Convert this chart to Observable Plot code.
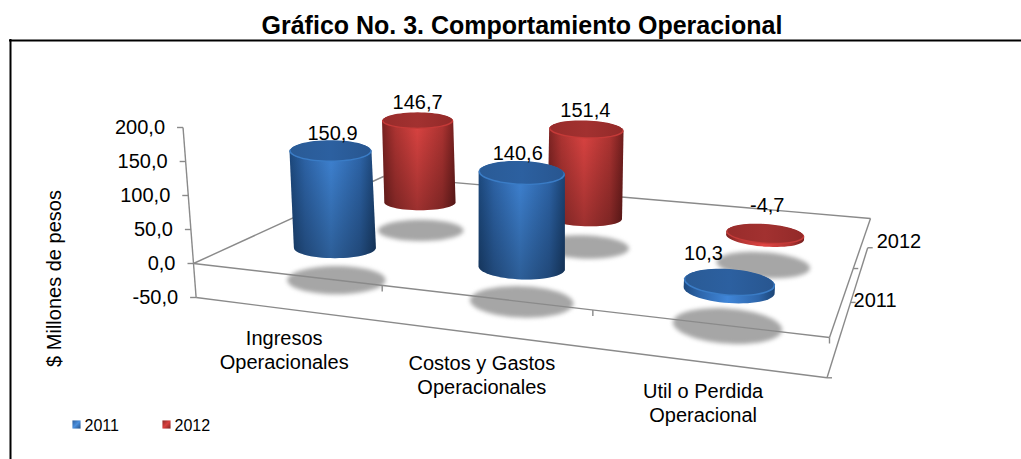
<!DOCTYPE html>
<html lang="es">
<head>
<meta charset="utf-8">
<script src="https://cdn.jsdelivr.net/npm/d3@7"></script>
<script src="https://cdn.jsdelivr.net/npm/@observablehq/plot@0.6"></script>
<style>
  html, body { margin: 0; padding: 0; background: #fff; }
  #title { box-sizing: border-box; width: 1021px; height: 39px; padding: 11px 0 0 23px; text-align: center;
    font: bold 25px/28px "Liberation Sans", Arial, sans-serif; color: #000; white-space: nowrap; }
</style>
</head>
<body>
<div id="title">Gráfico No. 3. Comportamiento Operacional</div>
<div id="chart"></div>
<script>
const categories = ["Ingresos\nOperacionales", "Costos y Gastos\nOperacionales", "Util o Perdida\nOperacional"];
const seriesNames = ["2011", "2012"];
const values2011 = [150.9, 140.6, 10.3];
const values2012 = [146.7, 151.4, -4.7];
const valueTicks = [-50, 0, 50, 100, 150, 200];
const yTitle = "$ Millones de pesos";
const axisMin = -50;

// Perspective camera of the 3D chart: floor corners (value 0) on the page.
const floor = {a: [193, 263], b: [829, 337], c: [870, 218], d: [383, 176]};
const unitHeight = 0.68, vanishX = 520, lean = 0.00016, barHeight = 0.985;
const radiusX = 43, radiusV = 0.1, tiltRate = 0.1;
const shadowGrowX = 1.2, shadowGrowY = 1.35;

const [x0, y0] = floor.a, [x1, y1] = floor.b, [x2, y2] = floor.c, [x3, y3] = floor.d;
const dx1 = x1 - x2, dx2 = x3 - x2, sx = x0 - x1 + x2 - x3;
const dy1 = y1 - y2, dy2 = y3 - y2, sy = y0 - y1 + y2 - y3;
const det = dx1 * dy2 - dx2 * dy1;
const g = (sx * dy2 - dx2 * sy) / det, h = (dx1 * sy - sx * dy1) / det;
const depthW = (u, v) => g * u + h * v + 1;
function project(u, v, val) {
  const w = depthW(u, v);
  const bx = ((x1 - x0 + g * x1) * u + (x3 - x0 + h * x3) * v + x0) / w;
  const by = ((y1 - y0 + g * y1) * u + (y3 - y0 + h * y3) * v + y0) / w;
  return {x: bx + (bx - vanishX) * lean * val, y: by - val * unitHeight / w};
}
// Outline of a cylinder's circular end, seen through the camera.
function ring(u, v, val, growX = 1, growY = 1) {
  const c = project(u, v, val);
  const rx = radiusX / depthW(u, v) * growX;
  const ry = Math.abs(project(u, v + 0.01, 0).y - project(u, v - 0.01, 0).y) / 0.02 * radiusV * growY;
  const tilt = (u - 0.17) * tiltRate;
  return d3.range(60).map(k => {
    const t = k / 60 * 2 * Math.PI;
    return {x: c.x + rx * Math.cos(t), y: c.y + ry * Math.sin(t) + tilt * rx * Math.cos(t)};
  });
}

const series = [
  {name: seriesNames[0], values: values2011, v: 0.235, key: "blue"},
  {name: seriesNames[1], values: values2012, v: 0.735, key: "red"}
];
const fmt = d => d.toFixed(1).replace(".", ",");
const catU = i => (i + 0.5) / categories.length;

function tag(points, id) { return points.map(p => ({...p, id})); }
function pieces(s) {
  const body = [], tall = [], topRim = [], topFace = [];
  s.values.forEach((val, i) => {
    const u = catU(i), hi = Math.max(val, 0) * barHeight, lo = Math.min(val, 0) * barHeight;
    const hull = d3.polygonHull([...ring(u, s.v, hi), ...ring(u, s.v, lo)].map(p => [p.x, p.y]));
    const outline = hull.map(([x, y]) => ({x, y, id: i}));
    body.push(...outline);
    if (Math.abs(val) > 50) tall.push(...outline);
    topRim.push(...tag(ring(u, s.v, hi), i));
    const inner = ring(u, s.v, hi, 0.97, 0.97).map(p => ({x: p.x, y: p.y - 1}));
    topFace.push(...tag(inner, i));
  });
  return {body, tall, topRim, topFace};
}
const shadows = series.flatMap(s => s.values.flatMap((_, i) =>
  tag(ring(catU(i), s.v, axisMin, shadowGrowX, shadowGrowY), s.key + i)));

// Axis frame
const seg = (p, q) => ({x1: p.x, y1: p.y, x2: q.x, y2: q.y});
const frameLines = [
  seg(project(0, 0, 0), project(1, 0, 0)),
  seg(project(1, 0, 0), project(1, 1, 0)),
  seg(project(1, 1, 0), project(0, 1, 0)),
  seg(project(0, 1, 0), project(0, 0, 0)),
  seg(project(0, 0, axisMin), project(1, 0, axisMin)),
  seg(project(1, 0, axisMin), project(1, 1, axisMin)),
  seg(project(0, 0, d3.max(valueTicks)), project(0, 0, axisMin))
];
const off = (p, dx, dy) => ({x: p.x + dx, y: p.y + dy});
const tickLines = [
  ...valueTicks.map(t => { const p = project(0, 0, t); return seg(off(p, -6, 0), p); }),
  ...d3.range(1, categories.length + 1).map(i => { const p = project(i / categories.length, 0, 0); return seg(p, off(p, 0, 6)); }),
  ...[0, 0.5, 1].map(v => { const p = project(1, v, axisMin); return seg(p, off(p, 5, 0)); }),
  (() => { const p = project(1, 0.5, 0); return seg(p, off(p, 5, 0)); })()
];
const valueLabels = valueTicks.map(t => ({...off(project(0, 0, t), -18, 0), text: fmt(t)}));
const catLabels = categories.map((c, i) => ({...off(project(catU(i), 0, axisMin), -3, 40), text: c}));
const rowLabels = [
  {...off(project(1, 0.5, axisMin), 3, -2), text: seriesNames[0]},
  {...off(project(1, 1, axisMin), 9, -6), text: seriesNames[1]}
];
const labelShift = {blue: [[2, -18], [-4, -20], [-26, -29]], red: [[0, -18], [-1, -19], [2, -29]]};
const dataLabels = series.flatMap(s => s.values.map((val, i) => {
  const p = project(catU(i), s.v, Math.max(val, 0) * barHeight);
  return {...off(p, ...labelShift[s.key][i]), text: fmt(val)};
}));
const legend = seriesNames.map((name, i) => ({name, x: 76 + i * 90, y: 424, fill: i ? "url(#legRed)" : "url(#legBlue)"}));

const lineOpts = {x: "x", y: "y", z: "id", curve: "linear-closed", stroke: "none"};
const P = [pieces(series[0]), pieces(series[1])];
const cyl = (piece, key) => [
  Plot.line(piece.body, {...lineOpts, fill: `url(#${key}Body)`}),
  Plot.line(piece.tall, {...lineOpts, fill: "url(#shade)"}),
  Plot.line(piece.topRim, {...lineOpts, fill: key === "blue" ? "#3a7cc6" : "#c53a38"}),
  Plot.line(piece.topFace, {...lineOpts, fill: `url(#${key}Top)`})
];

const chart = Plot.plot({
  width: 1021, height: 420,
  margin: 0,
  x: {domain: [0, 1021], range: [0, 1021], axis: null},
  y: {domain: [39, 459], range: [0, 420], axis: null},
  style: {display: "block", fontFamily: '"Liberation Sans", Arial, sans-serif', background: "#fff", overflow: "visible"},
  marks: [
    Plot.ruleY([40], {x1: 9, x2: 1021, stroke: "#000", strokeWidth: 2}),
    Plot.ruleX([10], {y1: 39, y2: 459, stroke: "#000", strokeWidth: 2}),
    Plot.line(shadows, {...lineOpts, fill: "#a6a6a6", imageFilter: "blur(2px)"}),
    Plot.link(frameLines, {x1: "x1", y1: "y1", x2: "x2", y2: "y2", stroke: "#8a8a8a", strokeWidth: 1.4}),
    Plot.link(tickLines, {x1: "x1", y1: "y1", x2: "x2", y2: "y2", stroke: "#8a8a8a", strokeWidth: 1.4}),
    ...cyl(P[1], "red"),
    ...cyl(P[0], "blue"),
    Plot.text(valueLabels, {x: "x", y: "y", text: "text", textAnchor: "end", fontSize: 20, fill: "#000"}),
    Plot.text(catLabels, {x: "x", y: "y", text: "text", fontSize: 20, lineHeight: 1.2, fill: "#000"}),
    Plot.text(rowLabels, {x: "x", y: "y", text: "text", textAnchor: "start", fontSize: 20, fill: "#000"}),
    Plot.text(dataLabels, {x: "x", y: "y", text: "text", fontSize: 20, fill: "#000"}),
    Plot.text([yTitle], {x: 54, y: 278, text: d => d, rotate: -90, fontSize: 20, fill: "#000"}),
    Plot.dot(legend, {x: "x", y: "y", symbol: "square", r: 4.6, fill: "fill", stroke: "none"}),
    Plot.text(legend, {x: d => d.x + 8, y: d => d.y + 1, text: "name", textAnchor: "start", fontSize: 16, fill: "#000"})
  ]
});

d3.select(chart).insert("defs", ":first-child").html(`
  <linearGradient id="blueBody" x1="0" x2="1" y1="0" y2="0">
    <stop offset="0" stop-color="#1d4a80"/><stop offset=".18" stop-color="#2e66ab"/>
    <stop offset=".48" stop-color="#4086d8"/><stop offset=".82" stop-color="#2e66ab"/><stop offset="1" stop-color="#1b4475"/>
  </linearGradient>
  <linearGradient id="redBody" x1="0" x2="1" y1="0" y2="0">
    <stop offset="0" stop-color="#7d2322"/><stop offset=".18" stop-color="#b23533"/>
    <stop offset=".48" stop-color="#e04543"/><stop offset=".82" stop-color="#b23533"/><stop offset="1" stop-color="#741f1e"/>
  </linearGradient>
  <linearGradient id="shade" x1="0" x2="0" y1="0" y2="1">
    <stop offset="0" stop-color="#000" stop-opacity="0"/><stop offset="1" stop-color="#000" stop-opacity=".3"/>
  </linearGradient>
  <linearGradient id="blueTop" x1="0" x2="1" y1="0" y2="0">
    <stop offset="0" stop-color="#2a5b96"/><stop offset=".5" stop-color="#2c60a0"/><stop offset="1" stop-color="#285690"/>
  </linearGradient>
  <linearGradient id="redTop" x1="0" x2="1" y1="0" y2="0">
    <stop offset="0" stop-color="#982c2b"/><stop offset=".5" stop-color="#a23130"/><stop offset="1" stop-color="#932a29"/>
  </linearGradient>
  <linearGradient id="legBlue" x1="0" x2="1" y1="0" y2="1">
    <stop offset="0" stop-color="#2c5f9e"/><stop offset=".5" stop-color="#4a8fdd"/><stop offset="1" stop-color="#234f85"/>
  </linearGradient>
  <linearGradient id="legRed" x1="0" x2="1" y1="0" y2="1">
    <stop offset="0" stop-color="#8e2928"/><stop offset=".5" stop-color="#d8403e"/><stop offset="1" stop-color="#7d2322"/>
  </linearGradient>`);
document.getElementById("chart").append(chart);
</script>
</body>
</html>
